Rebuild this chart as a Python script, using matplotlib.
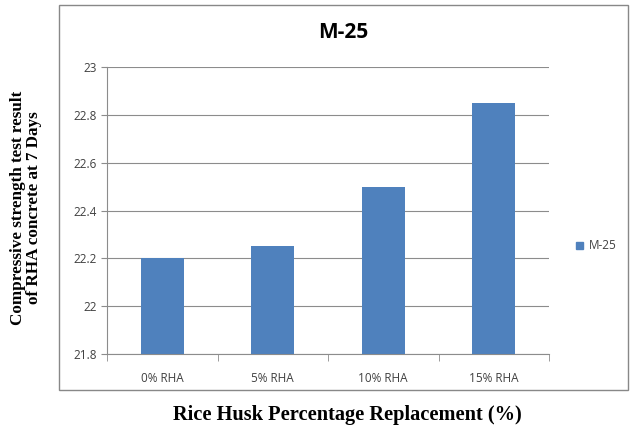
import matplotlib
matplotlib.use("Agg")
import matplotlib.pyplot as plt
from matplotlib.patches import Rectangle, Patch

categories = ["0% RHA", "5% RHA", "10% RHA", "15% RHA"]
values = [22.2, 22.25, 22.5, 22.85]
series_name = "M-25"
yticks = [21.8, 22, 22.2, 22.4, 22.6, 22.8, 23]
ytick_labels = ["21.8", "22", "22.2", "22.4", "22.6", "22.8", "23"]

bar_color = "#4F81BD"
grid_color = "#8c8c8c"

fig = plt.figure(figsize=(6.3, 4.3), dpi=100)
fig.patch.set_facecolor("white")

# chart border box
fig.add_artist(Rectangle((59/630, 1-390/430), (628-59)/630, (390-5)/430,
                         transform=fig.transFigure, fill=False,
                         edgecolor="#888888", linewidth=1.0))

ax = fig.add_axes([107/630, 1-354/430, (549-107)/630, (354-67)/430])
x = list(range(len(categories)))
ax.bar(x, values, width=0.39, color=bar_color, zorder=3, label=series_name)
ax.set_xlim(-0.5, len(categories)-0.5)
ax.set_ylim(21.8, 23)
ax.set_yticks(yticks)
ax.set_yticklabels(ytick_labels, fontfamily="Open Sans", fontsize=8.5, color="#404040")
ax.set_xticks(x)
ax.set_xticklabels(categories, fontfamily="Open Sans", fontsize=8.5, color="#404040")
ax.set_xticks([i - 0.5 for i in range(len(categories)+1)], minor=True)
ax.tick_params(axis="x", which="major", length=0, pad=13)
ax.tick_params(axis="x", which="minor", length=5, color=grid_color, direction="out")
ax.tick_params(axis="y", length=4, color=grid_color, direction="out", pad=3)
ax.yaxis.grid(True, color=grid_color, linewidth=0.8, zorder=0)
ax.set_axisbelow(True)
for s in ["top", "right"]:
    ax.spines[s].set_visible(False)
for s in ["left", "bottom"]:
    ax.spines[s].set_color(grid_color)
    ax.spines[s].set_linewidth(0.8)

fig.text(343/630, 1-33/430, "M-25", ha="center", va="center",
         fontfamily="Open Sans", fontweight="bold", fontsize=15)

fig.text(26/630, 1-208/430, "Compressive strength test result\nof RHA concrete at 7 Days",
         ha="center", va="center", rotation=90, fontfamily="Liberation Serif",
         fontweight="bold", fontsize=12.3, linespacing=0.95)

fig.text(347/630, 1-415/430, "Rice Husk Percentage Replacement (%)",
         ha="center", va="center", fontfamily="Liberation Serif",
         fontweight="bold", fontsize=14.7)

leg = fig.legend(handles=[Patch(color=bar_color, label=series_name)],
                 loc="center left", bbox_to_anchor=(565/630, 1-246/430),
                 frameon=False, prop={"family": "Open Sans", "size": 8.5},
                 handlelength=0.6, handleheight=0.6, handletextpad=0.5)
for t in leg.get_texts():
    t.set_color("#404040")

fig.savefig("out.png", dpi=100)
